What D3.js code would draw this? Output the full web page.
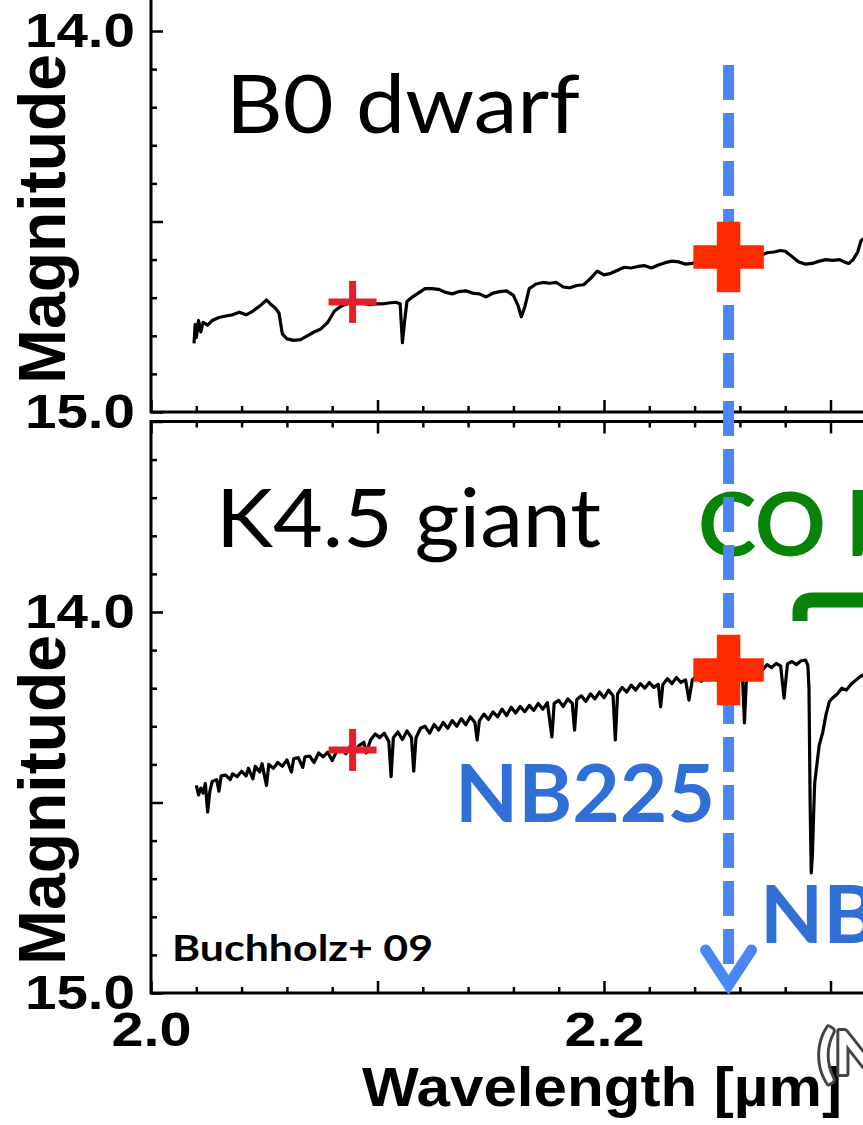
<!DOCTYPE html>
<html>
<head>
<meta charset="utf-8">
<script src="https://cdn.jsdelivr.net/npm/d3@7"></script>
<style>
    html, body { margin: 0; padding: 0; background: #ffffff; }
    svg { display: block; }
</style>
</head>
<body>
<div id="js_chart"></div>
<script>

// ******************************************************
// Data
// ******************************************************
const b0Spectrum = [
    [2.019,14.820],[2.0195,14.770],[2.020,14.805],[2.021,14.760],[2.022,14.790],[2.023,14.765],
    [2.025,14.772],[2.027,14.760],[2.030,14.752],[2.033,14.748],[2.036,14.745],[2.039,14.738],
    [2.042,14.745],[2.045,14.735],[2.048,14.722],[2.051,14.706],[2.053,14.718],[2.055,14.728],
    [2.0565,14.740],[2.058,14.795],[2.060,14.808],[2.063,14.812],[2.066,14.810],[2.069,14.800],
    [2.072,14.790],[2.075,14.782],[2.078,14.765],[2.081,14.735],[2.084,14.722],[2.087,14.715],
    [2.090,14.711],[2.093,14.714],[2.096,14.718],[2.099,14.716],[2.102,14.716],[2.105,14.714],
    [2.108,14.712],[2.110,14.716],[2.111,14.818],[2.112,14.760],[2.113,14.710],[2.115,14.700],
    [2.118,14.688],[2.121,14.676],[2.124,14.676],[2.127,14.678],[2.130,14.686],[2.133,14.690],
    [2.136,14.684],[2.139,14.682],[2.142,14.688],[2.145,14.690],[2.148,14.698],[2.151,14.688],
    [2.154,14.684],[2.157,14.682],[2.160,14.694],[2.162,14.720],[2.1635,14.750],[2.165,14.725],
    [2.167,14.676],[2.170,14.664],[2.173,14.660],[2.176,14.662],[2.179,14.660],[2.182,14.672],
    [2.185,14.674],[2.188,14.668],[2.191,14.666],[2.194,14.650],[2.197,14.630],[2.200,14.640],
    [2.203,14.636],[2.206,14.628],[2.209,14.620],[2.212,14.622],[2.215,14.618],[2.218,14.616],
    [2.221,14.622],[2.224,14.614],[2.227,14.608],[2.230,14.604],[2.233,14.606],[2.236,14.612],
    [2.239,14.610],[2.242,14.605],[2.246,14.600],[2.250,14.598],[2.255,14.596],[2.260,14.595],
    [2.265,14.594],[2.269,14.590],[2.272,14.582],[2.275,14.580],[2.278,14.576],[2.280,14.578],
    [2.283,14.592],[2.286,14.606],[2.289,14.612],[2.292,14.610],[2.295,14.604],[2.298,14.600],
    [2.301,14.602],[2.304,14.600],[2.306,14.606],[2.308,14.610],[2.310,14.600],[2.312,14.580],
    [2.3135,14.550],[2.316,14.540]
];

const k4Spectrum = [
    [2.020,14.455],[2.021,14.480],[2.022,14.462],[2.023,14.475],[2.024,14.450],[2.025,14.525],
    [2.026,14.470],[2.027,14.445],[2.029,14.440],[2.030,14.470],[2.031,14.430],[2.033,14.428],
    [2.035,14.440],[2.036,14.425],[2.038,14.432],[2.040,14.418],[2.042,14.430],[2.043,14.410],
    [2.045,14.438],[2.046,14.405],[2.048,14.420],[2.049,14.398],[2.051,14.455],[2.052,14.400],
    [2.054,14.410],[2.056,14.395],[2.058,14.405],[2.060,14.388],[2.062,14.420],[2.063,14.385],
    [2.065,14.382],[2.067,14.408],[2.068,14.380],[2.070,14.378],[2.072,14.395],[2.074,14.370],
    [2.076,14.380],[2.078,14.368],[2.080,14.390],[2.082,14.365],[2.084,14.358],[2.086,14.372],
    [2.088,14.352],[2.090,14.365],[2.092,14.350],[2.094,14.342],[2.095,14.370],[2.097,14.335],
    [2.099,14.320],[2.101,14.330],[2.103,14.318],[2.105,14.340],[2.106,14.432],[2.107,14.330],
    [2.109,14.315],[2.111,14.335],[2.113,14.312],[2.115,14.330],[2.116,14.418],[2.117,14.330],
    [2.119,14.305],[2.121,14.300],[2.123,14.318],[2.125,14.295],[2.127,14.310],[2.129,14.290],
    [2.131,14.305],[2.133,14.285],[2.135,14.300],[2.137,14.280],[2.139,14.296],[2.141,14.275],
    [2.143,14.290],[2.144,14.336],[2.145,14.285],[2.147,14.268],[2.149,14.282],[2.151,14.262],
    [2.153,14.275],[2.155,14.255],[2.157,14.272],[2.159,14.250],[2.161,14.265],[2.163,14.248],
    [2.165,14.262],[2.167,14.245],[2.169,14.258],[2.171,14.240],[2.173,14.255],[2.175,14.238],
    [2.177,14.328],[2.178,14.240],[2.180,14.232],[2.182,14.248],[2.184,14.228],[2.186,14.240],
    [2.187,14.310],[2.188,14.230],[2.190,14.220],[2.192,14.235],[2.194,14.215],[2.196,14.228],
    [2.198,14.210],[2.200,14.225],[2.202,14.205],[2.204,14.220],[2.205,14.336],[2.206,14.215],
    [2.208,14.198],[2.210,14.210],[2.212,14.192],[2.214,14.205],[2.216,14.188],[2.218,14.200],
    [2.220,14.185],[2.222,14.198],[2.224,14.190],[2.225,14.249],[2.226,14.190],[2.228,14.175],
    [2.230,14.188],[2.232,14.172],[2.234,14.185],[2.236,14.178],[2.2375,14.231],[2.239,14.178],
    [2.241,14.168],[2.243,14.182],[2.245,14.170],[2.247,14.178],[2.250,14.165],[2.253,14.172],
    [2.256,14.155],[2.259,14.162],[2.261,14.150],[2.262,14.291],[2.263,14.160],[2.265,14.148],
    [2.268,14.140],[2.270,14.152],[2.272,14.138],[2.274,14.146],[2.276,14.135],[2.278,14.142],
    [2.2795,14.226],[2.281,14.136],[2.283,14.130],[2.285,14.138],[2.287,14.128],[2.289,14.126],
    [2.2900,14.140],[2.2905,14.200],[2.291,14.500],[2.2915,14.685],[2.292,14.640],[2.2925,14.540],
    [2.293,14.450],[2.294,14.400],[2.295,14.350],[2.2965,14.318],[2.298,14.270],[2.2995,14.235],
    [2.301,14.225],[2.303,14.215],[2.305,14.200],[2.307,14.205],[2.309,14.190],[2.311,14.180],
    [2.313,14.170],[2.316,14.160]
];

// broad-band points (small cross) and narrow-band point (big cross)
const markerWaves   = [2.089, 2.255];
const b0MarkerMags  = [14.711, 14.593];
const k4MarkerMags  = [14.362, 14.152];
const filterWave    = 2.255;

// ticks
const majorMags  = [13.5, 14.0, 14.5, 15.0];
const minorMags  = [13.6, 13.7, 13.8, 13.9, 14.1, 14.2, 14.3, 14.4, 14.6, 14.7, 14.8, 14.9];
const magLabels  = [14.0, 15.0];
const majorWaves = [2.0, 2.1, 2.2, 2.3, 2.4];
const minorWaves = [2.02, 2.04, 2.06, 2.08, 2.12, 2.14, 2.16, 2.18, 2.22, 2.24, 2.26, 2.28, 2.32, 2.34, 2.36, 2.38];
const waveLabels = [2.0, 2.2, 2.4];

createPlot();

function createPlot() {

    // ******************************************************
    // Settings
    // ******************************************************
    let width = 863,
        height = 1125;

    let x = d3.scaleLinear().domain([2.0, 2.4]).range([151, 1057]);
    let yTop = d3.scaleLinear().domain([13.5, 15.0]).range([-159.5, 412]);
    let yBot = d3.scaleLinear().domain([13.5, 15.0]).range([421.5, 993]);

    let svg = d3.select("#js_chart")
        .append("svg")
        .attr("width", width)
        .attr("height", height);

    svg.append("rect").attr("width", width).attr("height", height).attr("fill", "#ffffff");

    let gAxes = svg.append("g");
    let gText = svg.append("g");
    let gArrow = svg.append("g");
    let gMarks = svg.append("g");

    drawPanel(yTop, false, b0Spectrum, b0MarkerMags);
    drawPanel(yBot, true, k4Spectrum, k4MarkerMags);

    // ******************************************************
    // Axis titles
    // ******************************************************
    [219, 800].forEach(function (cy) {
        gText.append("text")
            .attr("transform", "translate(65," + cy + ") rotate(-90)")
            .attr("text-anchor", "middle")
            .attr("font-family", "'Liberation Sans', Arial, sans-serif")
            .attr("font-weight", "bold")
            .attr("font-size", 67)
            .attr("textLength", 330)
            .attr("lengthAdjust", "spacingAndGlyphs")
            .text("Magnitude");
    });

    gText.append("text")
        .attr("x", 602).attr("y", 1106)
        .attr("text-anchor", "middle")
        .attr("font-family", "'Liberation Sans', Arial, sans-serif")
        .attr("font-weight", "bold")
        .attr("font-size", 56)
        .attr("textLength", 480)
        .attr("lengthAdjust", "spacingAndGlyphs")
        .text("Wavelength [\u00b5m]");

    // ******************************************************
    // Annotations
    // ******************************************************
    addLabel("B0 dwarf", 226, 133, 82, "normal", "#000000", 354);
    addLabel("K4.5 giant", 216, 547, 82, "normal", "#000000", 385);
    addLabel("CO band", 698, 556, 88, "bold", "#078407", null);
    addLabel("NB225", 455, 822, 80, "bold", "#2f6fd6", 260);
    addLabel("NB230", 760, 943, 80, "bold", "#2f6fd6", 260);
    addLabel("Buchholz+ 09", 172, 961, 37, "bold", "#000000", 261);

    gText.append("text")
        .attr("x", 818).attr("y", 1074)
        .attr("font-family", "Lato, sans-serif")
        .attr("font-weight", "bold")
        .attr("font-size", 60)
        .attr("fill", "#ffffff")
        .attr("stroke", "#444444")
        .attr("stroke-width", 6)
        .attr("stroke-linejoin", "round")
        .attr("paint-order", "stroke")
        .text("(NB230)");

    // CO band bracket
    gText.append("path")
        .attr("d", "M800,621 L800,612 Q800,600 813,600 L880,600")
        .attr("fill", "none")
        .attr("stroke", "#078407")
        .attr("stroke-width", 15);

    // ******************************************************
    // Filter arrow
    // ******************************************************
    let ax = x(filterWave);
    gArrow.append("line")
        .attr("x1", ax).attr("x2", ax)
        .attr("y1", 65).attr("y2", 985)
        .attr("stroke", "#4a86f5")
        .attr("stroke-width", 11)
        .attr("stroke-dasharray", "35,13");

    gArrow.append("path")
        .attr("d", "M" + (ax - 23) + ",950 L" + ax + ",985 L" + (ax + 23) + ",950")
        .attr("fill", "none")
        .attr("stroke", "#4a86f5")
        .attr("stroke-width", 11)
        .attr("stroke-linecap", "round")
        .attr("stroke-linejoin", "miter");

    // ******************************************************
    // Internal functions
    // ******************************************************
    function addLabel(str, px, py, size, weight, color, len) {
        let t = gText.append("text")
            .attr("x", px).attr("y", py)
            .attr("font-family", "Lato, sans-serif")
            .attr("font-weight", weight)
            .attr("font-size", size)
            .attr("fill", color)
            .text(str);
        if (len) t.attr("textLength", len).attr("lengthAdjust", "spacingAndGlyphs");
    }

    function styleAxis(g, labelLen) {
        g.select(".domain").remove();
        g.selectAll(".tick line").attr("stroke", "#000").attr("stroke-width", 2.5);
        g.selectAll(".tick text")
            .attr("fill", "#000")
            .attr("font-family", "'Liberation Sans', Arial, sans-serif")
            .attr("font-weight", "bold")
            .attr("font-size", 48)
            .each(function () {
                if (d3.select(this).text() !== "")
                    d3.select(this).attr("textLength", labelLen).attr("lengthAdjust", "spacingAndGlyphs");
            });
    }

    function drawPanel(y, showX, spectrum, markerMags) {

        // frame
        gAxes.append("rect")
            .attr("x", x(2.0)).attr("y", y(13.5))
            .attr("width", x(2.4) - x(2.0)).attr("height", y(15.0) - y(13.5))
            .attr("fill", "none")
            .attr("stroke", "#000")
            .attr("stroke-width", 3);

        // left axis
        gAxes.append("g")
            .attr("transform", "translate(" + x(2.0) + ",0)")
            .call(d3.axisLeft(y).tickValues(majorMags).tickSize(-12).tickPadding(16)
                .tickFormat(function (d) { return magLabels.includes(d) ? d.toFixed(1) : ""; }))
            .call(styleAxis, 110);

        gAxes.append("g")
            .attr("transform", "translate(" + x(2.0) + ",0)")
            .call(d3.axisLeft(y).tickValues(minorMags).tickSize(-6).tickFormat(""))
            .call(styleAxis, 0);

        // bottom axis
        gAxes.append("g")
            .attr("transform", "translate(0," + y(15.0) + ")")
            .call(d3.axisBottom(x).tickValues(majorWaves).tickSize(-12).tickPadding(19)
                .tickFormat(function (d) { return showX && waveLabels.includes(d) ? d.toFixed(1) : ""; }))
            .call(styleAxis, 80);

        gAxes.append("g")
            .attr("transform", "translate(0," + y(15.0) + ")")
            .call(d3.axisBottom(x).tickValues(minorWaves).tickSize(-6).tickFormat(""))
            .call(styleAxis, 0);

        // top axis
        gAxes.append("g")
            .attr("transform", "translate(0," + y(13.5) + ")")
            .call(d3.axisTop(x).tickValues(majorWaves).tickSize(-12).tickFormat(""))
            .call(styleAxis, 0);

        gAxes.append("g")
            .attr("transform", "translate(0," + y(13.5) + ")")
            .call(d3.axisTop(x).tickValues(minorWaves).tickSize(-6).tickFormat(""))
            .call(styleAxis, 0);

        // spectrum
        let line = d3.line()
            .x(function (d) { return x(d[0]); })
            .y(function (d) { return y(d[1]); });

        gAxes.append("path")
            .datum(spectrum)
            .attr("d", line)
            .attr("fill", "none")
            .attr("stroke", "#000")
            .attr("stroke-width", 3.2)
            .attr("stroke-linejoin", "round");

        // small cross (broad band)
        let sx = x(markerWaves[0]), sy = y(markerMags[0]);
        gMarks.append("line")
            .attr("x1", sx - 24).attr("x2", sx + 24).attr("y1", sy).attr("y2", sy)
            .attr("stroke", "#e61e2a").attr("stroke-width", 7);
        gMarks.append("line")
            .attr("x1", sx).attr("x2", sx).attr("y1", sy - 21).attr("y2", sy + 21)
            .attr("stroke", "#e61e2a").attr("stroke-width", 7);

        // big cross (narrow band)
        gMarks.append("path")
            .attr("transform", "translate(" + x(markerWaves[1]) + "," + y(markerMags[1]) + ")")
            .attr("d", d3.symbol().type(d3.symbolCross).size(5 * 23.5 * 23.5)())
            .attr("fill", "#ff2a00");
    }
}
</script>
</body>
</html>
